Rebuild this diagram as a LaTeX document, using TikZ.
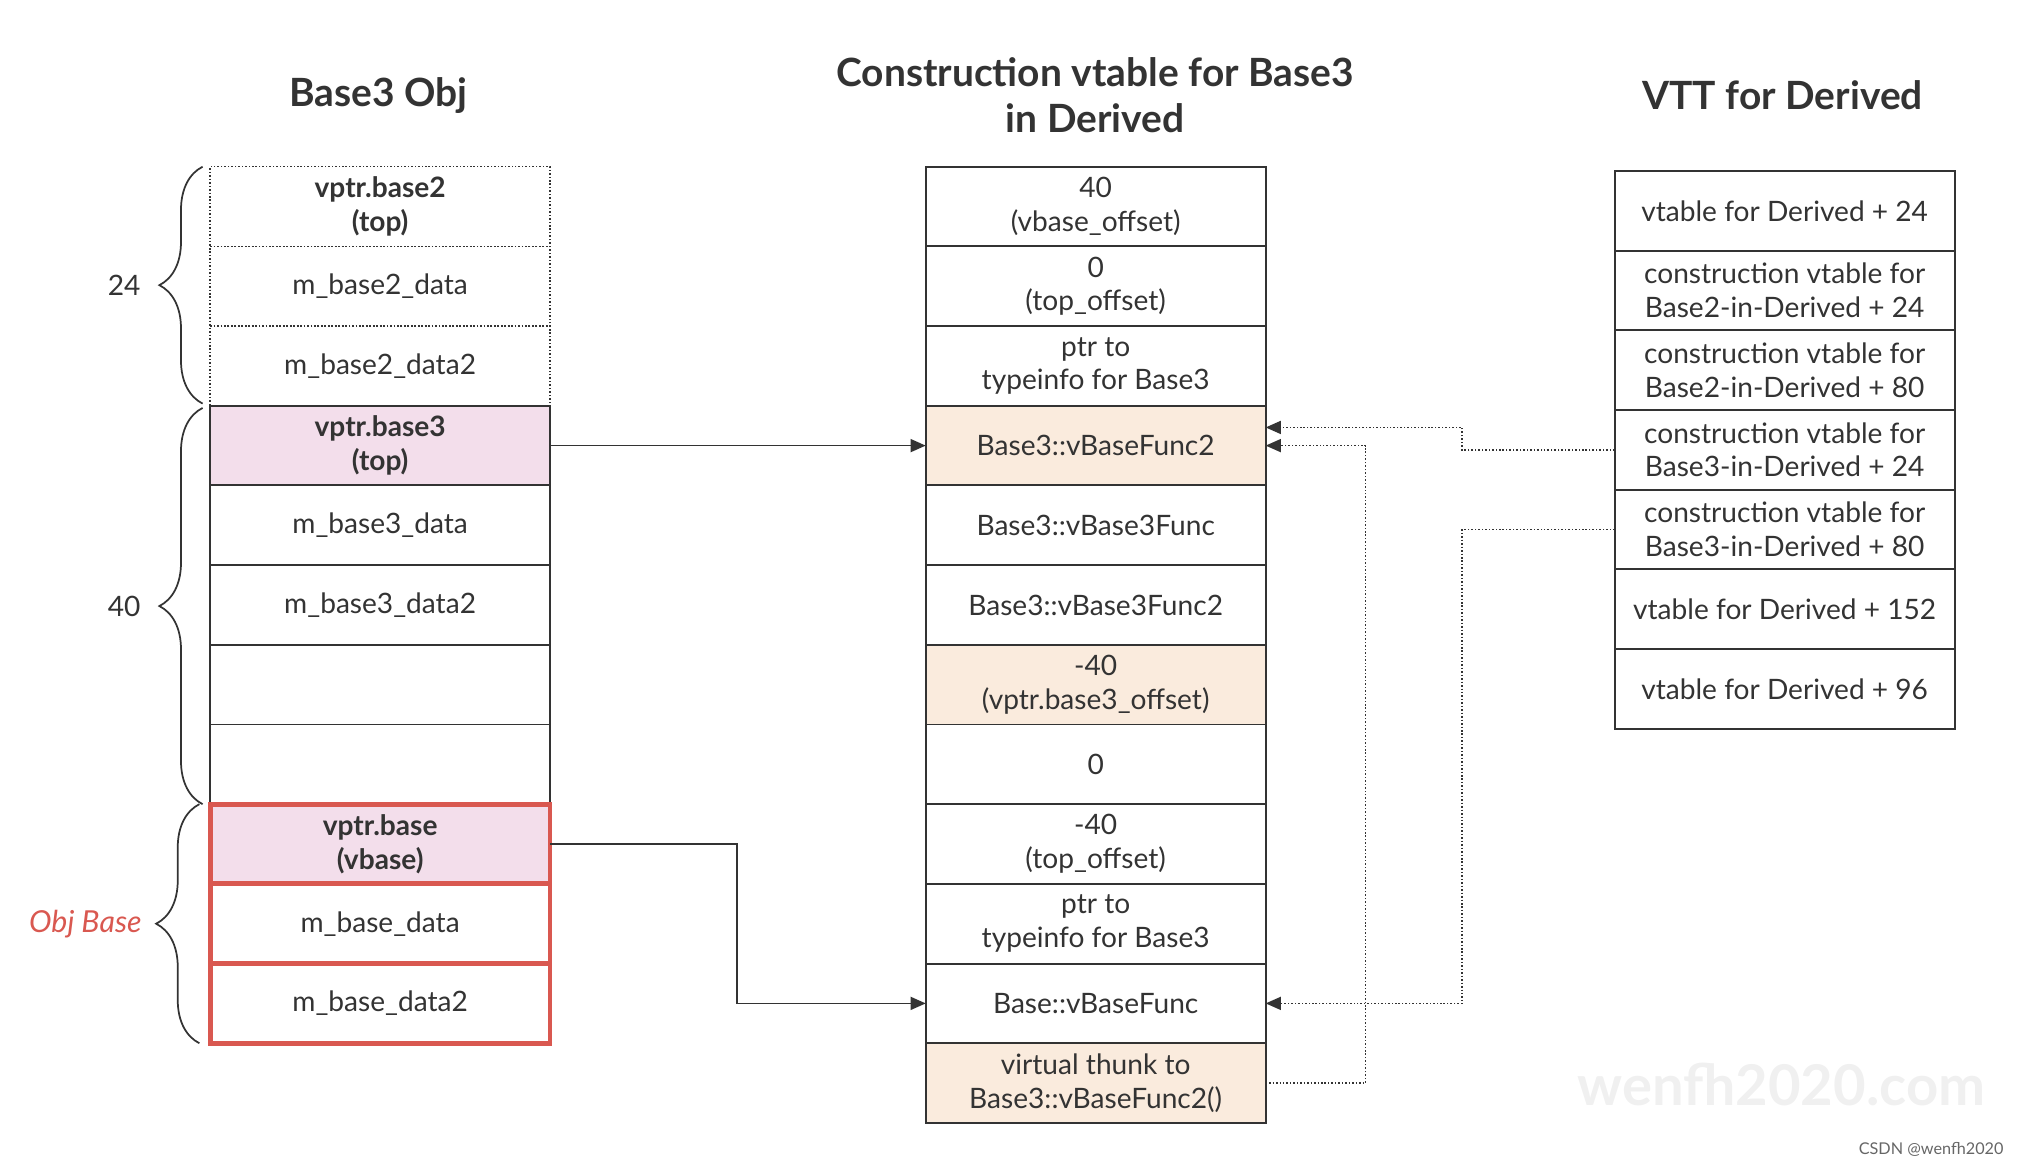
\documentclass[tikz,border=0pt]{standalone}
\usepackage{fontspec}
\setmainfont{Lato}
\usetikzlibrary{positioning, arrows.meta, decorations.pathreplacing}
\definecolor{vpink}{RGB}{243,222,235}
\definecolor{vpeach}{RGB}{250,235,221}
\definecolor{objred}{RGB}{217,88,80}
\definecolor{ink}{RGB}{51,51,51}

\begin{document}
\begin{tikzpicture}[x=0.6pt, y=-0.6pt, node distance=0pt,
  cell/.style = {draw=ink, line width=0.9pt, text=ink, minimum width=157.2pt, minimum height=36.85pt,
    inner sep=0pt, outer sep=0pt, align=center, font=\fontsize{13}{15.6}\selectfont},
  bold/.style = {font=\fontsize{13}{15.6}\selectfont\bfseries},
  dots/.style = {cell, dash pattern=on 0.7pt off 0.9pt, line width=0.7pt},
  hot/.style = {cell, draw=objred, line width=2.2pt},
  title/.style = {text=ink, align=center, font=\fontsize{18}{21}\selectfont\bfseries},
  size/.style = {draw=ink, line width=0.8pt, decorate, decoration={brace, amplitude=20pt}},
  link/.style = {draw=ink, line width=0.8pt, -{Triangle[length=7pt, width=6pt]}},
  vtt/.style = {link, dash pattern=on 0.7pt off 0.9pt, line width=0.7pt}]
\useasboundingbox (0,0) rectangle (1560,897);

% titles
\node[title] (h1) at (291.5,73.5) {Base3 Obj};
\node[title] (h2) at (844,73.5) {Construction vtable for Base3\\in Derived};
\node[title] (h3) at (1374,73.5) {VTT for Derived};

% Base3 object
\node[dots, bold, anchor=north west] (o1) at (162,128.5) {vptr.base2\\(top)};
\node[dots, below=of o1] (o2) {m\_base2\_data};
\node[dots, below=of o2] (o3) {m\_base2\_data2};
\node[cell, bold, fill=vpink, below=of o3] (o4) {vptr.base3\\(top)};
\node[cell, below=of o4] (o5) {m\_base3\_data};
\node[cell, below=of o5] (o6) {m\_base3\_data2};
\node[cell, below=of o6] (o7) {};
\node[cell, below=of o7] (o8) {};
\node[hot, bold, fill=vpink, below=of o8] (o9) {vptr.base\\(vbase)};
\node[hot, below=of o9] (o10) {m\_base\_data};
\node[hot, below=of o10] (o11) {m\_base\_data2};

% construction vtable
\node[cell, anchor=north west] (c1) at (713.5,128.5) {40\\(vbase\_offset)};
\node[cell, below=of c1] (c2) {0\\(top\_offset)};
\node[cell, below=of c2] (c3) {ptr to\\typeinfo for Base3};
\node[cell, fill=vpeach, below=of c3] (c4) {Base3::vBaseFunc2};
\node[cell, below=of c4] (c5) {Base3::vBase3Func};
\node[cell, below=of c5] (c6) {Base3::vBase3Func2};
\node[cell, fill=vpeach, below=of c6] (c7) {-40\\(vptr.base3\_offset)};
\node[cell, below=of c7] (c8) {0};
\node[cell, below=of c8] (c9) {-40\\(top\_offset)};
\node[cell, below=of c9] (c10) {ptr to\\typeinfo for Base3};
\node[cell, below=of c10] (c11) {Base::vBaseFunc};
\node[cell, fill=vpeach, below=of c11] (c12) {virtual thunk to\\Base3::vBaseFunc2()};

% VTT
\node[cell, anchor=north west] (t1) at (1244.5,131.8) {vtable for Derived + 24};
\node[cell, below=of t1] (t2) {construction vtable for\\Base2-in-Derived + 24};
\node[cell, below=of t2] (t3) {construction vtable for\\Base2-in-Derived + 80};
\node[cell, below=of t3] (t4) {construction vtable for\\Base3-in-Derived + 24};
\node[cell, below=of t4] (t5) {construction vtable for\\Base3-in-Derived + 80};
\node[cell, below=of t5] (t6) {vtable for Derived + 152};
\node[cell, below=of t6] (t7) {vtable for Derived + 96};

% sizes
\draw[size] ([xshift=-3.5pt, yshift=1pt]o3.south west) -- ([xshift=-3.5pt]o1.north west)
  node[midway, left=25pt, text=ink, font=\fontsize{13}{15.6}\selectfont] (s24) {24};
\draw[size] ([xshift=-3.5pt]o8.south west) -- ([xshift=-3.5pt, yshift=-1pt]o4.north west)
  node[midway, left=25pt, text=ink, font=\fontsize{13}{15.6}\selectfont] (s40) {40};
\draw[size] ([xshift=-5pt]o11.south west) -- ([xshift=-5pt]o9.north west)
  node[midway, left=23pt, text=objred, font=\fontsize{14}{16}\selectfont\itshape] (sbase) {Obj Base};

% pointers
\draw[link] (o4.east) -- (c4.west);
\draw[link] (o9.east) -- ++(144,0) |- (c11.west);
\draw[vtt] (t4.west) -- ++(-117.5,0) |- ([yshift=8.4pt]c4.east);
\draw[vtt] (t5.west) -- ++(-117.5,0) |- (c11.east);
\draw[vtt] (c12.east) -- ++(77,0) |- (c4.east);

% marks
\node[text=black!6, font=\fontsize{26}{27}\selectfont\bfseries] (wm) at (1373,836) {wenfh2020.com};
\node[text=black!60, anchor=east, font=\fontsize{7.5}{8}\selectfont] (csdn) at (1550,886) {CSDN @wenfh2020};
\end{tikzpicture}
\end{document}
